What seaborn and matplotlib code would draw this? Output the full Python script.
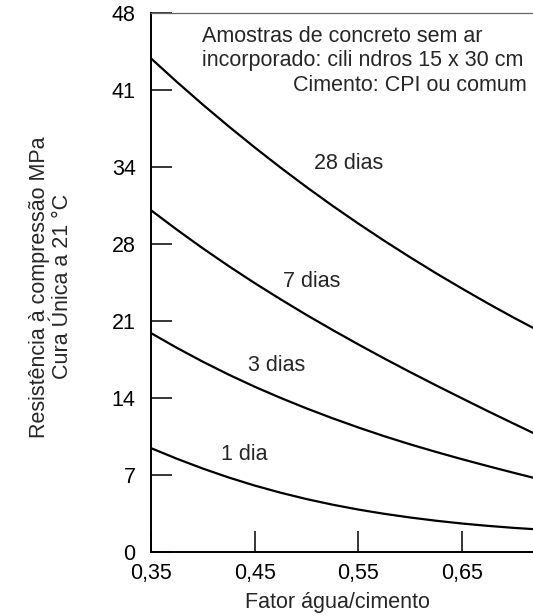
import numpy as np
import pandas as pd
import matplotlib
matplotlib.use("Agg")
import matplotlib.pyplot as plt
import seaborn as sns

# --- data ---
fator = [0.35, 0.375, 0.40, 0.425, 0.45, 0.475, 0.50, 0.525, 0.55,
         0.575, 0.60, 0.625, 0.65, 0.675, 0.70, 0.72]
dias28 = [44.2, 42.09, 40.06, 38.11, 36.23, 34.42, 32.68, 31.01, 29.41,
          27.87, 26.39, 24.96, 23.59, 22.26, 20.98, 20.0]
dias7 = [30.6, 28.86, 27.19, 25.60, 24.08, 22.63, 21.23, 19.89, 18.59,
         17.33, 16.11, 14.92, 13.76, 12.61, 11.49, 10.6]
dias3 = [19.6, 18.28, 17.04, 15.88, 14.80, 13.80, 12.86, 11.98, 11.15,
         10.37, 9.64, 8.96, 8.31, 7.69, 7.09, 6.62]
dia1 = [9.3, 8.35, 7.47, 6.67, 5.95, 5.31, 4.74, 4.24, 3.80,
        3.42, 3.09, 2.80, 2.55, 2.34, 2.16, 2.04]
series_names = ["28 dias", "7 dias", "3 dias", "1 dia"]

x_ticks = [0.35, 0.45, 0.55, 0.65]
x_tick_labels = ["0,35", "0,45", "0,55", "0,65"]
y_tick_labels = ["0", "7", "14", "21", "28", "34", "41", "48"]
psi_to_mpa = 6.895  # 1000 psi in MPa (tick spacing)

df = pd.DataFrame({
    "fator": fator * 4,
    "mpa": dias28 + dias7 + dias3 + dia1,
    "serie": sum([[n] * len(fator) for n in series_names], []),
})

sns.set_style("ticks")
plt.rcParams["font.family"] = ["Liberation Sans", "DejaVu Sans"]

fig = plt.figure(figsize=(5.33, 6.16), dpi=100)
ax = fig.add_axes([151 / 533, 64 / 616, 382 / 533, 539 / 616])

sns.lineplot(data=df, x="fator", y="mpa", hue="serie",
             palette=["black"] * 4, linewidth=1.6, legend=False, ax=ax,
             sort=True)

ax.set_xlim(0.35, 0.7185)
ax.set_ylim(0, 7 * psi_to_mpa)
ax.set_xticks(x_ticks)
ax.set_xticklabels(x_tick_labels)
ax.set_yticks([i * psi_to_mpa for i in range(len(y_tick_labels))])
ax.set_yticklabels(y_tick_labels)
ax.tick_params(axis="both", direction="in", length=15, width=1.1,
               labelsize=15.5, colors="black")
ax.tick_params(axis="y", pad=11)
ax.tick_params(axis="x", pad=8)

for side in ["left", "bottom"]:
    ax.spines[side].set_linewidth(1.4)
    ax.spines[side].set_color("black")
ax.spines["top"].set_linewidth(0.9)
ax.spines["top"].set_color("#666666")
ax.spines["right"].set_visible(False)

ax.set_xlabel("Fator água/cimento", fontsize=15.5)
ax.xaxis.label.set_va("center")
ax.xaxis.set_label_coords(0.487, -0.093)
ax.set_ylabel("Resistência à compressão MPa\nCura Única a 21 °C",
              fontsize=15.5, linespacing=1.12)
ax.yaxis.label.set_va("center")
ax.yaxis.set_label_coords(-0.262, 0.492)

# curve labels
ax.text(0.541, 34.8, "28 dias", fontsize=15.5, ha="center", va="center")
ax.text(0.505, 24.2, "7 dias", fontsize=15.5, ha="center", va="center")
ax.text(0.471, 16.7, "3 dias", fontsize=15.5, ha="center", va="center")
ax.text(0.440, 8.7, "1 dia", fontsize=15.5, ha="center", va="center")

# note
ax.text(0.3992, 45.7, "Amostras de concreto sem ar", fontsize=15.5,
        ha="left", va="baseline")
ax.text(0.3992, 43.56, "incorporado: cili ndros 15 x 30 cm", fontsize=15.5,
        ha="left", va="baseline")
ax.text(0.7126, 41.32, "Cimento: CPI ou comum", fontsize=15.5,
        ha="right", va="baseline")

fig.savefig("out.png", dpi=100)
